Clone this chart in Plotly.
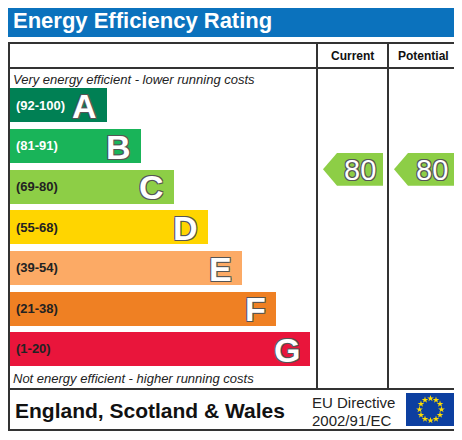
import math
import plotly.graph_objects as go

# EPC rating bands
bands = ["A", "B", "C", "D", "E", "F", "G"]
ranges = ["(92-100)", "(81-91)", "(69-80)", "(55-68)", "(39-54)", "(21-38)", "(1-20)"]
range_lo = [92, 81, 69, 55, 39, 21, 1]
range_hi = [100, 91, 80, 68, 54, 38, 20]
bar_len = [99, 133, 166, 200, 234, 268, 302]
colors = ["#008054", "#19b459", "#8dce46", "#ffd500", "#fcaa65", "#ef8023", "#e9153b"]
range_font_colors = ["white", "white", "#222", "#222", "#222", "#222", "#222"]

columns = ["Current", "Potential"]
scores = [80, 80]

FONT = "Arial, Liberation Sans, sans-serif"
W, H = 462, 440
OFF = 8  # page body margin: figure pixel p shows at window p + 8
LINE = "#333"
outline = "-1px -1px 0 #555, 1px -1px 0 #555, -1px 1px 0 #555, 1px 1px 0 #555"

fig = go.Figure()

# bars (x in window pixels, y = band index)
idx = list(range(len(bands)))
fig.add_trace(go.Bar(
    y=idx, x=bar_len, base=8, orientation="h", width=0.836,
    marker=dict(color=colors, line=dict(width=0)),
    hoverinfo="skip", showlegend=False,
))

annotations = []
for i, b in enumerate(bands):
    annotations.append(dict(
        x=14, y=i, xref="x", yref="y", text="<b>%s</b>" % ranges[i],
        showarrow=False, xanchor="left", yanchor="middle",
        font=dict(family=FONT, size=13, color=range_font_colors[i]),
    ))
    annotations.append(dict(
        x=8 + bar_len[i] - 8, y=i, xref="x", yref="y", text="<b>%s</b>" % b,
        showarrow=False, xanchor="right", yanchor="middle", yshift=-1,
        font=dict(family=FONT, size=34, color="white", shadow=outline),
    ))

# rating arrows
col_x = [(323, 383), (394, 455)]
for c, s in enumerate(scores):
    bi = next(k for k in idx if range_lo[k] <= s <= range_hi[k])
    yc = bi - 0.418 + (range_hi[bi] - s) / (range_hi[bi] - range_lo[bi] + 1) * 0.836
    x0, x1 = col_x[c]
    h = 0.405
    fig.add_trace(go.Scatter(
        x=[x0, x0 + 14, x1, x1, x0 + 14, x0],
        y=[yc, yc - h, yc - h, yc + h, yc + h, yc],
        fill="toself", fillcolor=colors[bi], mode="lines",
        line=dict(width=0, color=colors[bi]),
        hoverinfo="skip", showlegend=False,
    ))
    annotations.append(dict(
        x=(x0 + 14 + x1) / 2, y=yc, xref="x", yref="y", text=str(s),
        showarrow=False, xanchor="center", yanchor="middle", yshift=-1,
        font=dict(family=FONT, size=29, color="white", shadow=outline),
    ))

# EU flag stars
cx, cy, r = 430.5, 409.5, 11
fig.add_trace(go.Scatter(
    x=[cx + r * math.cos(k * math.pi / 6) for k in range(12)],
    y=[cy + r * math.sin(k * math.pi / 6) for k in range(12)],
    xaxis="x2", yaxis="y2", mode="markers",
    marker=dict(symbol="star", size=5, color="#ffdd00", line=dict(width=0)),
    hoverinfo="skip", showlegend=False,
))

shapes = [
    dict(type="rect", xref="x2", yref="y2", x0=8, y0=3, x1=460, y1=37,
         fillcolor="#0b72bd", line=dict(width=0), layer="below"),
    dict(type="rect", xref="x2", yref="y2", x0=406, y0=393, x1=455, y1=426,
         fillcolor="#0d3fa0", line=dict(width=0), layer="below"),
    dict(type="rect", xref="x2", yref="y2", x0=9, y0=43, x1=459, y1=430,
         line=dict(color=LINE, width=2)),
    dict(type="line", xref="x2", yref="y2", x0=9, y0=68, x1=459, y1=68,
         line=dict(color=LINE, width=2)),
    dict(type="line", xref="x2", yref="y2", x0=9, y0=389, x1=459, y1=389,
         line=dict(color=LINE, width=2)),
    dict(type="line", xref="x2", yref="y2", x0=317, y0=43, x1=317, y1=389,
         line=dict(color=LINE, width=2)),
    dict(type="line", xref="x2", yref="y2", x0=388, y0=43, x1=388, y1=389,
         line=dict(color=LINE, width=2)),
]

def txt(x, y, t, size, color="#111", anchor="left", italic=False, bold=False):
    if bold:
        t = "<b>%s</b>" % t
    if italic:
        t = "<i>%s</i>" % t
    annotations.append(dict(
        x=x, y=y, xref="x2", yref="y2", text=t, showarrow=False,
        xanchor=anchor, yanchor="middle", font=dict(family=FONT, size=size, color=color),
    ))

txt(11, 20, "Energy Efficiency Rating", 22, color="white", bold=True)
txt(352.5, 56, columns[0], 12, anchor="center", bold=True)
txt(423.5, 56, columns[1], 12, anchor="center", bold=True)
txt(11, 79, "Very energy efficient - lower running costs", 13, color="#222", italic=True)
txt(11, 378, "Not energy efficient - higher running costs", 13, color="#222", italic=True)
txt(13, 410, "England, Scotland & Wales", 21, bold=True)
txt(310, 402, "EU Directive", 15, color="#222")
txt(310, 420, "2002/91/EC", 15, color="#222")

fig.update_layout(
    width=W, height=H,
    margin=dict(l=0, r=0, t=0, b=0),
    paper_bgcolor="white", plot_bgcolor="rgba(0,0,0,0)",
    bargap=0,
    xaxis=dict(range=[OFF, W + OFF], domain=[0, 1], anchor="y", visible=False, fixedrange=True),
    yaxis=dict(range=[6.5, -0.5], anchor="x",
               domain=[1 - (369.3 - OFF) / H, 1 - (84.7 - OFF) / H],
               visible=False, fixedrange=True),
    xaxis2=dict(range=[OFF, W + OFF], domain=[0, 1], anchor="y2", visible=False, fixedrange=True),
    yaxis2=dict(range=[H + OFF, OFF], domain=[0, 1], anchor="x2", visible=False, fixedrange=True),
    shapes=shapes,
    annotations=annotations,
)

fig.write_html("out.html")
